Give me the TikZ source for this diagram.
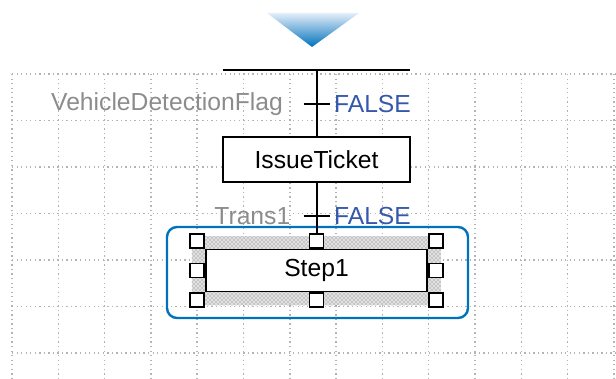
\documentclass[tikz,border=0pt]{standalone}
\usepackage{fontspec}
\setmainfont{Liberation Sans}
\usetikzlibrary{positioning,patterns}
\definecolor{selblue}{RGB}{0,114,188}
\definecolor{valblue}{RGB}{52,88,172}
\definecolor{lblgray}{RGB}{140,140,140}
\definecolor{gridgray}{RGB}{180,180,180}
\begin{document}
\begin{tikzpicture}[x=0.75pt, y=-0.75pt,
    every node/.style={font=\fontsize{18.5pt}{20pt}\selectfont},
    gridline/.style={gridgray, line width=1.1pt, dash pattern=on 1pt off 2.4pt},
    wire/.style={black, line width=1.5pt},
    cond/.style={lblgray, inner sep=0pt},
    val/.style={valblue, inner sep=0pt},
    actbox/.style={draw, line width=1.4pt, fill=white, inner sep=0pt,
        minimum width=140pt, minimum height=34pt},
    stepbox/.style={draw, line width=1.4pt, fill=white, inner sep=0pt,
        minimum width=166pt, minimum height=31.5pt},
    selband/.style={fill=black!12, inner sep=0pt, minimum width=187pt, minimum height=51.75pt,
        postaction={pattern=crosshatch dots, pattern color=black!55}},
    handle/.style={draw, fill=white, line width=1.3pt, inner sep=0pt, minimum size=10.5pt},
    selframe/.style={draw=selblue, line width=1.8pt, rounded corners=7.5pt, inner sep=0pt,
        minimum width=225.75pt, minimum height=68.25pt}]
    \useasboundingbox (0,0) rectangle (616,378);

    % Grid
    \foreach \k in {0,...,6}
        \draw[gridline] (12,74+46.5*\k) -- (616,74+46.5*\k);
    \foreach \k in {0,...,13}
        \draw[gridline] (12+46.3*\k,74) -- (12+46.3*\k,378);

    % Entry marker
    \shade[top color={rgb,255:red,228;green,237;blue,249}, bottom color=selblue]
        (267,13) -- (359,13) -- (312,47) -- cycle;

    % Top bar and transitions
    \coordinate (barL) at (223,70);
    \coordinate (barR) at (410,70);
    \coordinate (top) at (316.5,70);
    \coordinate (t1) at (316.5,104);
    \coordinate (t2) at (316.5,216);
    \draw[wire] (barL) -- (barR);

    % Steps
    \node[actbox] (issue) at (316.5,159.5) {IssueTicket};
    \node[selframe] (frame) at (317.5,272.5) {};
    \node[selband] (sel) at (316.5,270.5) {};
    \node[stepbox] (step1) at (sel) {Step1};
    \foreach \a/\b/\n in {north west/south east/nw, west/east/w, south west/north east/sw,
                          north/south/n, south/north/s,
                          north east/south west/ne, east/west/e, south east/north west/se}
        \node[handle, anchor=\b] (h\n) at (step1.\a) {};

    % Connectors
    \draw[wire] (top) -- (issue.north);
    \draw[wire] (issue.south) -- (hn.north);
    \draw[wire] ([xshift=-9.75pt]t1) -- ([xshift=9.75pt]t1);
    \draw[wire] ([xshift=-9.75pt]t2) -- ([xshift=9.75pt]t2);

    % Conditions
    \node[cond, anchor=mid east, left=25pt of t1] (c1) {VehicleDetectionFlag};
    \node[val, anchor=mid west, right=13pt of t1] (v1) {FALSE};
    \node[cond, anchor=mid east, left=19.5pt of t2] (c2) {Trans1};
    \node[val, anchor=mid west, right=13pt of t2] (v2) {FALSE};
\end{tikzpicture}
\end{document}
